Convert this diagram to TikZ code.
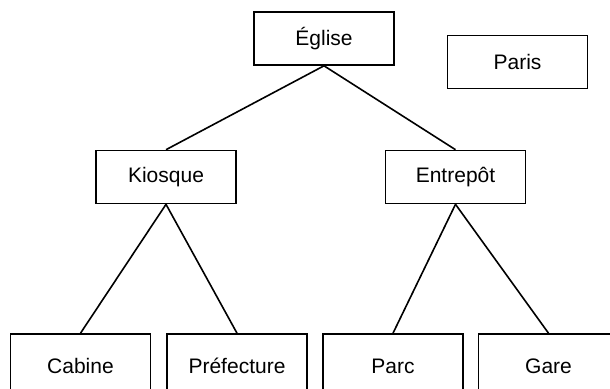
\documentclass[tikz,border=0pt]{standalone}
\usepackage{fontspec}
\setmainfont{Liberation Sans}
\begin{document}
\begin{tikzpicture}[x=1pt,y=-1pt,
  box/.style={draw=black,line width=1.6pt,rectangle,minimum width=140pt,minimum height=53pt,inner sep=0pt,font=\fontsize{21}{25}\selectfont},
  lowbox/.style={box,minimum height=64pt},
  link/.style={draw=black,line width=1.6pt}]
\useasboundingbox (0,0) rectangle (610,388);
\node[box] (eglise) at (324,38.5) {Église};
\node[box] (paris) at (517.5,62) {Paris};
\node[box] (kiosque) at (166,177) {Kiosque};
\node[box] (entrepot) at (455.5,177) {Entrepôt};
\node[lowbox] (cabine) at (80.5,366) {Cabine};
\node[lowbox] (prefecture) at (237,366) {Préfecture};
\node[lowbox] (parc) at (393,366) {Parc};
\node[lowbox] (gare) at (548.5,366) {Gare};
\draw[link] (eglise.south) -- (kiosque.north);
\draw[link] (eglise.south) -- (entrepot.north);
\draw[link] (kiosque.south) -- (cabine.north);
\draw[link] (kiosque.south) -- (prefecture.north);
\draw[link] (entrepot.south) -- (parc.north);
\draw[link] (entrepot.south) -- (gare.north);
\end{tikzpicture}
\end{document}
